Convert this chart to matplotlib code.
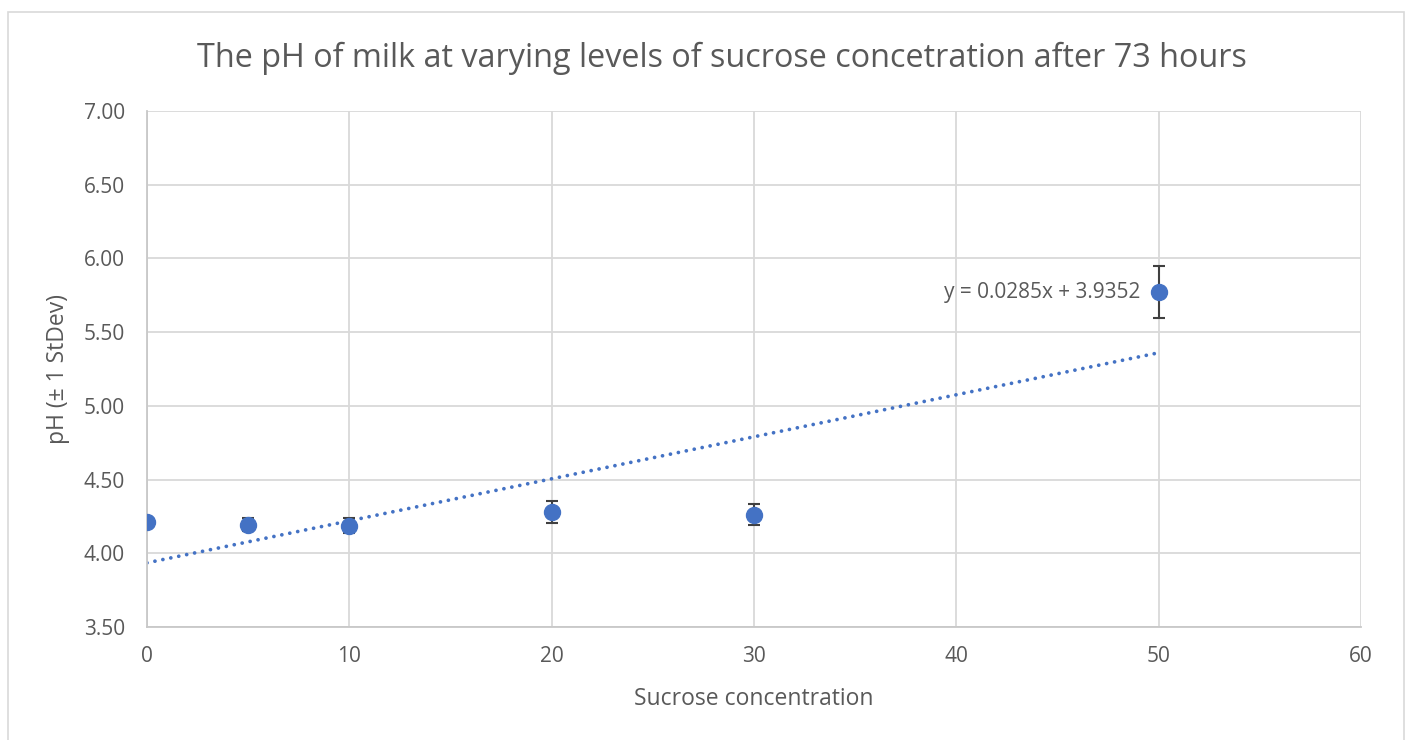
import matplotlib.pyplot as plt
from matplotlib.patches import Rectangle

# data
sucrose = [0, 5, 10, 20, 30, 50]
ph_mean = [4.21, 4.195, 4.187, 4.28, 4.262, 5.772]
ph_sd = [0.01, 0.041, 0.049, 0.077, 0.07, 0.174]

# linear trendline as reported on the chart
slope = 0.0285
intercept = 3.9352
trend_x = [0, 50]

x_ticks = [0, 10, 20, 30, 40, 50, 60]
y_ticks = [3.5, 4.0, 4.5, 5.0, 5.5, 6.0, 6.5, 7.0]

plt.rcParams['font.family'] = ['Open Sans', 'DejaVu Sans']
text_col = '#595959'
blue = '#4472C4'

fig = plt.figure(figsize=(14.05, 7.40), dpi=100)
ax = fig.add_axes([147 / 1405, 1 - 627 / 740, (1361 - 147) / 1405, (627 - 111) / 740])

# chart border like Excel's chart area
fig.patches.append(Rectangle((8 / 1405, -0.05), (1404 - 8) / 1405, 1 - 12 / 740 + 0.05,
                             transform=fig.transFigure, fill=False,
                             edgecolor='#d9d9d9', lw=1.2))

trend_y = [slope * x + intercept for x in trend_x]
ax.plot(trend_x, trend_y, color=blue, lw=2.7, linestyle=(0, (0.01, 2.15)),
        dash_capstyle='round', zorder=2)

ax.errorbar(sucrose, ph_mean, yerr=ph_sd, fmt='o', color=blue, markersize=11.5,
            ecolor='#404040', elinewidth=1.5, capsize=4.4, capthick=1.5, zorder=3)

ax.text(49.1, 5.772, 'y = 0.0285x + 3.9352', ha='right', va='center',
        fontsize=15, color=text_col)

ax.set_xlim(0, 60)
ax.set_ylim(3.5, 7.0)
ax.set_xticks(x_ticks)
ax.set_yticks(y_ticks)
ax.set_yticklabels([f'{v:.2f}' for v in y_ticks])
ax.grid(True, color='#d9d9d9', lw=1.3)
ax.set_axisbelow(True)
for side in ['top', 'right']:
    ax.spines[side].set_visible(False)
for side in ['left', 'bottom']:
    ax.spines[side].set_color('#c8c8c8')
    ax.spines[side].set_linewidth(1.3)
ax.tick_params(axis='both', length=0, labelsize=15, colors=text_col)
ax.tick_params(axis='y', pad=16)
ax.tick_params(axis='x', pad=14)

ax.set_xlabel('Sucrose concentration', fontsize=16.5, color=text_col, labelpad=14)
ax.set_ylabel('pH (± 1 StDev)', fontsize=16.5, color=text_col, labelpad=10)
fig.text(722 / 1405, 1 - 58 / 740,
         'The pH of milk at varying levels of sucrose concetration after 73 hours',
         ha='center', va='center', fontsize=23.3, color=text_col)

fig.savefig('out.png', dpi=100)
